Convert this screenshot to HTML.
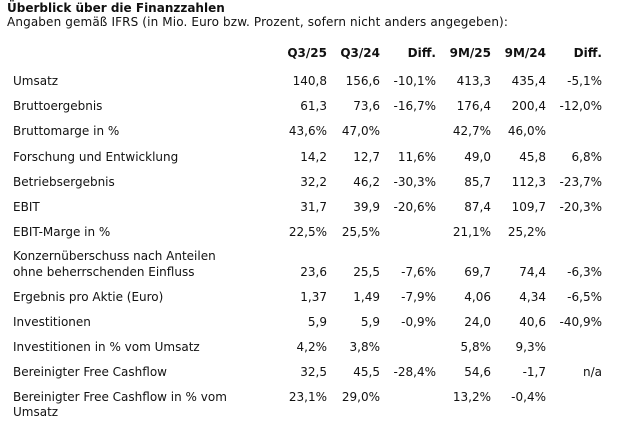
<!DOCTYPE html>
<html><head><meta charset="utf-8"><style>
body{margin:0;width:625px;height:428px;background:#fff;position:relative;overflow:hidden;font-family:"DejaVu Sans","Liberation Sans",sans-serif;font-size:12px;color:#111}
div{position:absolute;white-space:nowrap;line-height:14px}
.r{text-align:right;width:80px}
.b{font-weight:bold}
</style></head><body>
<div class="b" style="left:7px;top:1px;font-size:12px">Überblick über die Finanzzahlen</div>
<div style="left:7px;top:15px;font-size:12px;letter-spacing:0.13px">Angaben gemäß IFRS (in Mio. Euro bzw. Prozent, sofern nicht anders angegeben):</div>
<script>
const cols=[327,380,436,491,546,602];
const rows=[
[53,["<b>Q3/25</b>","<b>Q3/24</b>","<b>Diff.</b>","<b>9M/25</b>","<b>9M/24</b>","<b>Diff.</b>"],""],
[81,["140,8","156,6","-10,1%","413,3","435,4","-5,1%"],"Umsatz"],
[106,["61,3","73,6","-16,7%","176,4","200,4","-12,0%"],"Bruttoergebnis"],
[131,["43,6%","47,0%","","42,7%","46,0%",""],"Bruttomarge in %"],
[157,["14,2","12,7","11,6%","49,0","45,8","6,8%"],"Forschung und Entwicklung"],
[182,["32,2","46,2","-30,3%","85,7","112,3","-23,7%"],"Betriebsergebnis"],
[207,["31,7","39,9","-20,6%","87,4","109,7","-20,3%"],"EBIT"],
[232,["22,5%","25,5%","","21,1%","25,2%",""],"EBIT-Marge in %"],
[272,["23,6","25,5","-7,6%","69,7","74,4","-6,3%"],"ohne beherrschenden Einfluss"],
[297,["1,37","1,49","-7,9%","4,06","4,34","-6,5%"],"Ergebnis pro Aktie (Euro)"],
[322,["5,9","5,9","-0,9%","24,0","40,6","-40,9%"],"Investitionen"],
[347,["4,2%","3,8%","","5,8%","9,3%",""],"Investitionen in % vom Umsatz"],
[372,["32,5","45,5","-28,4%","54,6","-1,7","n/a"],"Bereinigter Free Cashflow"],
[397,["23,1%","29,0%","","13,2%","-0,4%",""],"Bereinigter Free Cashflow in % vom"],
[412,["","","","","",""],"Umsatz"],
[256,["","","","","",""],"Konzernüberschuss nach Anteilen"]];
let h="";
for(const [y,v,l] of rows){
 if(l)h+=`<div style="left:13px;top:${y-7}px">${l}</div>`;
 v.forEach((t,i)=>{if(t)h+=`<div class="r" style="left:${cols[i]-80}px;top:${y-7}px">${t}</div>`});
}
document.body.insertAdjacentHTML("beforeend",h);
</script>
</body></html>
